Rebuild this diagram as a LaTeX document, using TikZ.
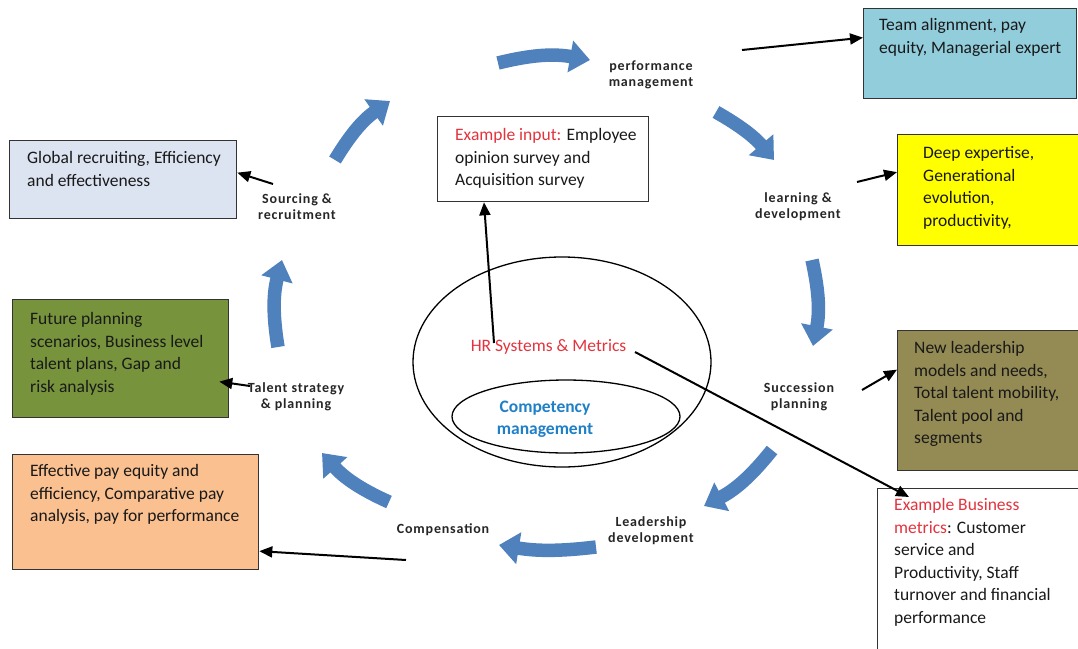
\documentclass[tikz,border=0pt]{standalone}
\usepackage{fontspec}
\setmainfont{Carlito}
\newfontfamily\lblfont[LetterSpace=6]{Carlito}
\usetikzlibrary{arrows.meta}
\definecolor{flowblue}{HTML}{4F81BD}
\definecolor{gboxc}{HTML}{DCE3F1}
\definecolor{teamc}{HTML}{92CDDC}
\definecolor{yelc}{HTML}{FFFF00}
\definecolor{olivec}{HTML}{948A54}
\definecolor{greenc}{HTML}{77933C}
\definecolor{orangec}{HTML}{FAC090}
\definecolor{exred}{HTML}{E3343E}
\definecolor{compblue}{HTML}{1F80C8}
\newcommand\bxfont{\fontsize{17.5}{22.5}\selectfont}
\newcommand\lbfont{\lblfont\bfseries\fontsize{14}{16}\selectfont}
\tikzset{
  box/.style={draw=black!80, line width=1.3pt, rectangle, inner sep=0pt, anchor=north west},
  btxt/.style={font=\bxfont, align=left, anchor=north west, inner sep=0pt, text=black!90},
  lbl/.style={font=\lbfont, align=center, text=black!85, inner sep=0pt},
  flow/.style={draw=flowblue, line width=13.5pt, -{Triangle[length=20pt,width=31pt]}},
  conn/.style={draw=black, line width=2pt, -{Triangle[length=13pt,width=11pt]}},
  ell/.style={draw=black, line width=1.3pt}
}
\begin{document}
\begin{tikzpicture}[x=1pt,y=-1pt]
\useasboundingbox (0,0) rectangle (1078,648);
\clip (0,0) rectangle (1078,648);
\fill[white] (0,0) rectangle (1078,648);

% ellipses
\draw[ell] (562,362) ellipse [x radius=149, y radius=105];
\draw[ell] (566,416.5) ellipse [x radius=114, y radius=36.5];
\node[font=\bxfont, text=exred, anchor=base, inner sep=0pt] (hr) at (548.5,351) {HR Systems \& Metrics};
\node[font=\bxfont\bfseries, text=compblue, align=center, inner sep=0pt] (comp) at (545,419) {Competency\\management};

% boxes
\node[box, fill=gboxc, minimum width=227pt, minimum height=78pt] (gbox) at (9,140) {};
\node[btxt] (gtxt) at (27,148) {\strut Global recruiting, Efficiency\\and effectiveness};

\node[box, fill=teamc, minimum width=213pt, minimum height=90pt] (tbox) at (863,8) {};
\node[btxt] (ttxt) at (879,15) {\strut Team alignment, pay\\equity, Managerial expert};

\node[box, fill=yelc, minimum width=190pt, minimum height=111pt] (ybox) at (897,134) {};
\node[btxt] (ytxt) at (923,143) {\strut Deep expertise,\\Generational\\evolution,\\productivity,};

\node[box, fill=olivec, minimum width=190pt, minimum height=140pt] (obox) at (897,330) {};
\node[btxt] (otxt) at (914,338) {\strut New leadership\\models and needs,\\Total talent mobility,\\Talent pool and\\segments};

\node[box, fill=white, minimum width=210pt, minimum height=180pt] (bbox) at (877,488) {};
\node[btxt] (btxt1) at (894,495) {\strut\textcolor{exred}{Example Business}\\\textcolor{exred}{metrics}: Customer\\service and\\Productivity, Staff\\turnover and financial\\performance};

\node[box, fill=greenc, minimum width=216pt, minimum height=118pt] (grbox) at (12,299) {};
\node[btxt] (grtxt) at (30,309) {\strut Future planning\\scenarios, Business level\\talent plans, Gap and\\risk analysis};

\node[box, fill=orangec, minimum width=246pt, minimum height=115pt] (orbox) at (12,454) {};
\node[btxt] (ortxt) at (30,461) {\strut Effective pay equity and\\efficiency, Comparative pay\\analysis, pay for performance};

\node[box, fill=white, minimum width=211pt, minimum height=85pt] (ibox) at (437,116) {};
\node[btxt] (itxt) at (455,125) {\strut\textcolor{exred}{Example input:} Employee\\opinion survey and\\Acquisition survey};

% stage labels
\node[lbl] (perf) at (651,75) {performance\\management};
\node[lbl] (learn) at (798,207) {learning \&\\development};
\node[lbl] (succ) at (799,397) {Succession\\planning};
\node[lbl] (lead) at (651,531) {Leadership\\development};
\node[lbl] (compn) at (443,530) {Compensation};
\node[lbl] (tal) at (296,397) {Talent strategy\\\& planning};
\node[lbl] (src) at (297,207) {Sourcing \&\\recruitment};

% blue cycle arrows
\coordinate (f1a) at (498,63);  \coordinate (f1b) at (590,60);
\coordinate (f2a) at (716,112); \coordinate (f2b) at (774,160);
\coordinate (f3a) at (812,260); \coordinate (f3b) at (813,346);
\coordinate (f4a) at (772,450); \coordinate (f4b) at (704,506);
\coordinate (f5a) at (596,547); \coordinate (f5b) at (499,545);
\coordinate (f6a) at (389,502); \coordinate (f6b) at (322,453);
\coordinate (f7a) at (278,347); \coordinate (f7b) at (282,260);
\coordinate (f8a) at (335,160); \coordinate (f8b) at (390,101);
\draw[flow] (f1a) to[bend left=12] (f1b);
\draw[flow] (f2a) to[bend left=10] (f2b);
\draw[flow] (f3a) to[bend left=12] (f3b);
\draw[flow] (f4a) to[bend left=12] (f4b);
\draw[flow] (f5a) to[bend left=8] (f5b);
\draw[flow] (f6a) to[bend left=12] (f6b);
\draw[flow] (f7a) to[bend left=12] (f7b);
\draw[flow] (f8a) to[bend left=12] (f8b);

% black connectors
\coordinate (cT) at (742,50);
\coordinate (cY) at (857,182);
\coordinate (cO) at (862,390);
\coordinate (cG) at (273,184);
\coordinate (cGr) at (250,386);
\coordinate (cOr) at (406,560);
\coordinate (cH1) at (494,343);
\coordinate (cH2) at (635,352);
\draw[conn] (cT) -- ([yshift=16pt]tbox.west);
\draw[conn] (cY) -- ([yshift=18pt]ybox.west);
\draw[conn] (cO) -- ([yshift=31pt]obox.west);
\draw[conn] (cG) -- ([yshift=7pt]gbox.east);
\draw[conn] (cGr) -- ([xshift=-10pt,yshift=-23pt]grbox.east);
\draw[conn] (cOr) -- ([yshift=-39pt]orbox.east);
\draw[conn] (cH1) -- (ibox.south -| 484,0);
\draw[conn] (cH2) -- ([xshift=32pt,yshift=-9pt]bbox.north west);
\end{tikzpicture}
\end{document}
